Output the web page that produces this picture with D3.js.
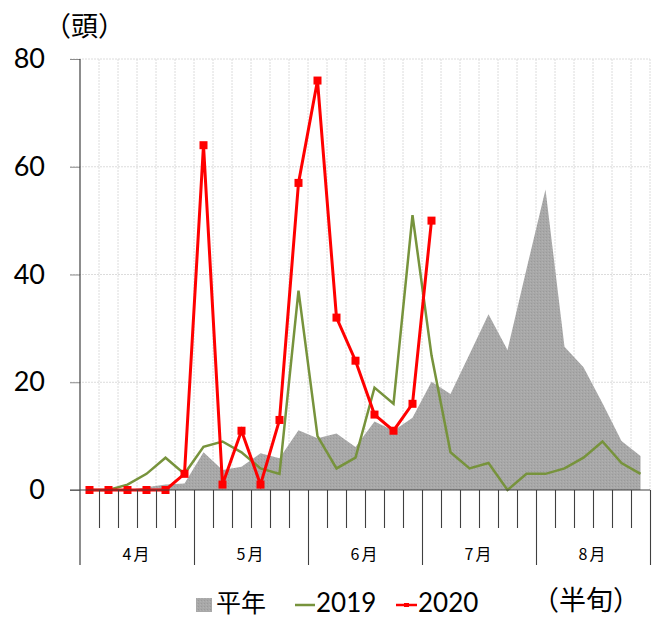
<!DOCTYPE html>
<html><head><meta charset="utf-8">
<script src="https://cdn.jsdelivr.net/npm/d3@7"></script>
<style>
body{margin:0;background:#fff;}
svg{display:block;}
</style></head>
<body>
<svg id="c" width="653" height="619"></svg>
<script>
const months = ["4月","5月","6月","7月","8月"];
const pentadsPerMonth = 6;
const categories = months.flatMap(m => d3.range(1, pentadsPerMonth + 1).map(k => m + k + "半旬"));
const normalYear = [0,0,0,0.5,1,1.2,7,3.7,4.3,6.8,5.9,11.1,9.6,10.5,8,12.7,11,13.4,20.1,17.8,25.2,32.6,26,41,55.8,26.6,22.8,16.1,9.1,6.3];
const y2019 = [0,0,1,3,6,3,8,9,7,4,3,37,10,4,6,19,16,51,25,7,4,5,0,3,3,4,6,9,5,3];
const y2020 = [0,0,0,0,0,3,64,1,11,1,13,57,76,32,24,14,11,16,50];
const yTicks = [0,20,40,60,80];
const legendLabels = ["平年","2019","2020"];

const svg = d3.select("#c");
const L = 80, R = 650, T = 59, B = 490;
const x = d3.scaleBand().domain(categories).range([L, R]).padding(0);
const xc = (i) => x(categories[i]) + x.bandwidth() / 2;
const xb = d3.scaleLinear().domain([0, categories.length]).range([L, R]);
const y = d3.scaleLinear().domain([0, 80]).range([B, T]);
const monthScale = d3.scaleBand().domain(months).range([L, R]);

const numFont = "Lato, 'Liberation Sans', sans-serif";
const jpFont = "'Noto Sans CJK JP', sans-serif";

// gridlines
const grid = svg.append("g");
grid.selectAll("line.v").data(d3.range(1, categories.length + 1)).join("line")
  .attr("x1", d => xb(d)).attr("x2", d => xb(d))
  .attr("y1", T).attr("y2", B)
  .attr("stroke", "#dcdcdc").attr("stroke-width", 1).attr("stroke-dasharray", "2,1");
grid.selectAll("line.h").data(yTicks.filter(d => d > 0)).join("line")
  .attr("x1", L - 10).attr("x2", R)
  .attr("y1", d => y(d)).attr("y2", d => y(d))
  .attr("stroke", "#dcdcdc").attr("stroke-width", 1).attr("stroke-dasharray", "2,1");

// pattern for normal year fill
const defs = svg.append("defs");
const pat = defs.append("pattern").attr("id", "gp").attr("width", 3).attr("height", 3).attr("patternUnits", "userSpaceOnUse");
pat.append("rect").attr("width", 3).attr("height", 3).attr("fill", "#a8a8a8");
pat.append("rect").attr("x", 0).attr("y", 0).attr("width", 1).attr("height", 1).attr("fill", "#9a9a9a");
pat.append("rect").attr("x", 2).attr("y", 1).attr("width", 1).attr("height", 1).attr("fill", "#b2b2b2");

// area
const area = d3.area().x((d, i) => xc(i)).y0(y(0)).y1(d => y(d));
svg.append("path").datum(normalYear).attr("d", area).attr("fill", "url(#gp)");

// 2019 line
const line = d3.line().x((d, i) => xc(i)).y(d => y(d));
svg.append("path").datum(y2019).attr("d", line)
  .attr("fill", "none").attr("stroke", "#77933c").attr("stroke-width", 2.5);

// 2020 line
svg.append("path").datum(y2020).attr("d", line)
  .attr("fill", "none").attr("stroke", "#ff0000").attr("stroke-width", 3);
svg.selectAll("rect.m").data(y2020).join("rect")
  .attr("x", (d, i) => xc(i) - 4).attr("y", d => y(d) - 4)
  .attr("width", 8).attr("height", 8).attr("fill", "#ff0000");

// y axis
const yAxis = d3.axisLeft(y).tickValues(yTicks).tickSize(10).tickPadding(25).tickFormat(d3.format("d"));
const gy = svg.append("g").attr("transform", `translate(${L},0)`).call(yAxis);
gy.select(".domain").remove();
gy.selectAll(".tick line").attr("stroke", "#8c8c8c");
gy.selectAll(".tick text").attr("font-family", numFont).attr("font-size", 27).attr("fill", "#000");
svg.append("line").attr("x1", L).attr("x2", L).attr("y1", T).attr("y2", 565).attr("stroke", "#404040").attr("stroke-width", 1.2);

// x axis
svg.append("line").attr("x1", L - 10).attr("x2", R).attr("y1", B).attr("y2", B).attr("stroke", "#404040").attr("stroke-width", 1.2);
const minor = d3.range(1, categories.length).filter(d => d % pentadsPerMonth !== 0);
const major = d3.range(pentadsPerMonth, categories.length + 1, pentadsPerMonth);
const gxm = svg.append("g").attr("transform", `translate(0,${B})`)
  .call(d3.axisBottom(xb).tickValues(minor).tickSize(38).tickFormat(""));
gxm.select(".domain").remove();
gxm.selectAll(".tick line").attr("stroke", "#404040").attr("stroke-width", 1.1);
const gxM = svg.append("g").attr("transform", `translate(0,${B})`)
  .call(d3.axisBottom(xb).tickValues(major).tickSize(75).tickFormat(""));
gxM.select(".domain").remove();
gxM.selectAll(".tick line").attr("stroke", "#404040").attr("stroke-width", 1.1);

svg.selectAll("text.month").data(months).join("text")
  .attr("x", d => monthScale(d) + monthScale.bandwidth() / 2)
  .attr("y", 553).attr("text-anchor", "middle").attr("dominant-baseline", "central")
  .attr("font-family", jpFont).attr("font-size", 16).attr("letter-spacing", 2).attr("fill", "#000")
  .text(d => d);

// unit labels
svg.append("text").attr("x", 44).attr("y", 24).attr("dominant-baseline", "central")
  .attr("font-family", jpFont).attr("font-size", 27).attr("fill", "#000").text("（頭）");
svg.append("text").attr("x", 532).attr("y", 598).attr("dominant-baseline", "central")
  .attr("font-family", jpFont).attr("font-size", 27).attr("fill", "#000").text("（半旬）");

// legend
const lg = svg.append("g");
lg.append("rect").attr("x", 196).attr("y", 598).attr("width", 16).attr("height", 14).attr("fill", "url(#gp)");
lg.append("text").attr("x", 216).attr("y", 601).attr("dominant-baseline", "central")
  .attr("font-family", jpFont).attr("font-size", 25).attr("fill", "#000").text(legendLabels[0]);
lg.append("line").attr("x1", 295).attr("x2", 315).attr("y1", 605).attr("y2", 605).attr("stroke", "#77933c").attr("stroke-width", 2.5);
lg.append("text").attr("x", 316).attr("y", 602).attr("dominant-baseline", "central")
  .attr("font-family", numFont).attr("font-size", 26).attr("fill", "#000").text(legendLabels[1]);
lg.append("line").attr("x1", 396).attr("x2", 417).attr("y1", 605).attr("y2", 605).attr("stroke", "#ff0000").attr("stroke-width", 2.5);
lg.append("rect").attr("x", 404).attr("y", 603).attr("width", 5).attr("height", 4).attr("fill", "#ff0000");
lg.append("text").attr("x", 418).attr("y", 602).attr("dominant-baseline", "central")
  .attr("font-family", numFont).attr("font-size", 26).attr("fill", "#000").text(legendLabels[2]);
</script>
</body></html>
